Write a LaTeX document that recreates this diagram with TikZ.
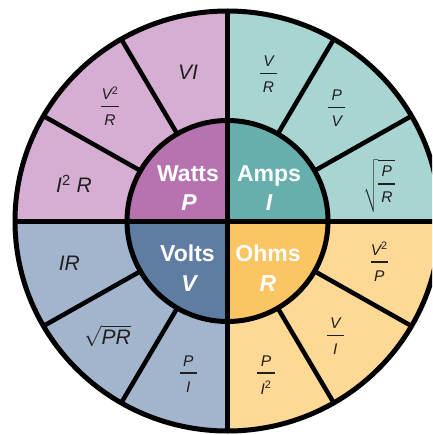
\RequirePackage{fix-cm}
\documentclass[tikz,border=0pt]{standalone}
\usepackage{exscale}
\usepackage{fontspec}
\setmainfont{Liberation Sans}
\definecolor{wattsO}{HTML}{D6AED3}
\definecolor{wattsI}{HTML}{B673AF}
\definecolor{ampsO}{HTML}{A8D4D1}
\definecolor{ampsI}{HTML}{67AFAD}
\definecolor{voltsO}{HTML}{A3B4CD}
\definecolor{voltsI}{HTML}{5F7CA3}
\definecolor{ohmsO}{HTML}{FDD995}
\definecolor{ohmsI}{HTML}{FBC563}
\definecolor{lbl}{HTML}{231F20}
\newcommand\fr[2]{{\renewcommand\arraystretch{1}\setlength\tabcolsep{0pt}\begin{tabular}[t]{@{}c@{}}#1\\[-5pt]\rule[3.4pt]{1.1em}{1.2pt}\\[-1pt]#2\end{tabular}}}
\newcommand\sq[1]{\textsuperscript{\upshape #1}}
\begin{document}
\begin{tikzpicture}[x=1pt,y=-1pt,
  ring/.style={line width=5pt,draw=black},
  spoke/.style={line width=4.5pt,draw=black},
  lab/.style={font=\fontsize{21}{25}\selectfont\itshape,text=lbl,inner sep=0pt,anchor=base},
  fraclab/.style={font=\fontsize{15.5}{16}\selectfont\itshape,text=lbl,inner sep=0pt,anchor=base},
  head/.style={font=\fontsize{23}{28}\selectfont\bfseries,text=white,inner sep=0pt,anchor=base}]
\useasboundingbox (0,0) rectangle (432,435);
\clip (0,0) rectangle (432,435);
\coordinate (c) at (227.5,221);
% outer quadrants
\fill[wattsO] (c) -- ([shift={(-90:212.5 and 210)}]c) arc[start angle=-90,end angle=-180,x radius=212.5,y radius=210] -- cycle;
\fill[ampsO] (c) -- ([shift={(0:212.5 and 210)}]c) arc[start angle=0,end angle=-90,x radius=212.5,y radius=210] -- cycle;
\fill[voltsO] (c) -- ([shift={(180:212.5 and 210)}]c) arc[start angle=180,end angle=90,x radius=212.5,y radius=210] -- cycle;
\fill[ohmsO] (c) -- ([shift={(90:212.5 and 210)}]c) arc[start angle=90,end angle=0,x radius=212.5,y radius=210] -- cycle;
% inner quadrants
\fill[wattsI] (c) -- ([shift={(-90:100.5)}]c) arc[start angle=-90,end angle=-180,radius=100.5] -- cycle;
\fill[ampsI] (c) -- ([shift={(0:100.5)}]c) arc[start angle=0,end angle=-90,radius=100.5] -- cycle;
\fill[voltsI] (c) -- ([shift={(180:100.5)}]c) arc[start angle=180,end angle=90,radius=100.5] -- cycle;
\fill[ohmsI] (c) -- ([shift={(90:100.5)}]c) arc[start angle=90,end angle=0,radius=100.5] -- cycle;
% lines
\foreach \a in {30,60,120,150,210,240,300,330}
  \draw[spoke] ([shift={(-\a:100.5)}]c) -- ([shift={(-\a:212.5 and 210)}]c);
\draw[ring] ([shift={(-212.5,0)}]c) -- ([shift={(212.5,0)}]c);
\draw[ring] ([shift={(0,-210)}]c) -- ([shift={(0,210)}]c);
\draw[ring] (c) circle[radius=100.5];
\draw[ring] (c) ellipse[x radius=212.5,y radius=210];
% centre labels
\node[head] (wT) at (188,181.7) {Watts};
\node[head] (wP) at (189,211) {\itshape P};
\node[head] (aT) at (269,181.7) {Amps};
\node[head] (aI) at (269,211) {\itshape I};
\node[head] (vT) at (187.5,261.7) {Volts};
\node[head] (vV) at (189,291.7) {\itshape V};
\node[head] (oT) at (268,261.7) {Ohms};
\node[head] (oR) at (268,291.7) {\itshape R};
% watts formulas
\node[lab] (p1) at (188,80) {VI};
\node[fraclab] (p2) at (110,99.7) {\fr{V\sq{2}}{R}};
\node[lab] (p3) at (74,193) {I\sq{2} R};
% amps formulas
\node[fraclab] (i1) at (268.5,66.3) {\fr{V}{R}};
\node[fraclab] (i2) at (336.7,100.3) {\fr{P}{V}};
\node[fraclab] (i3) at (379.3,177) {$\sqrt{\fr{P}{R}}$};
% volts formulas
\node[lab] (v1) at (69.3,270.7) {IR};
\node[lab] (v2) at (107.5,344.7) {$\sqrt{\textit{PR}}$};
\node[fraclab] (v3) at (188.3,366) {\fr{P}{I}};
% ohms formulas
\node[fraclab] (r1) at (379.3,255) {\fr{V\sq{2}}{P}};
\node[fraclab] (r2) at (335.3,328.3) {\fr{V}{I}};
\node[fraclab] (r3) at (266,366) {\fr{P}{I\sq{2}}};
\end{tikzpicture}
\end{document}
